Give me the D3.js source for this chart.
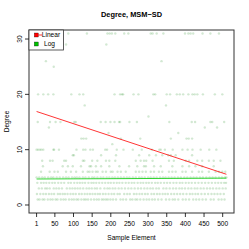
<!DOCTYPE html>
<html>
<head>
<meta charset="utf-8">
<script src="https://cdn.jsdelivr.net/npm/d3@7"></script>
<style>
  body { margin: 0; background: #fff; }
  text { font-family: "Liberation Sans", Arial, sans-serif; }
</style>
</head>
<body>
<svg id="chart" width="249" height="249"></svg>
<script>
// Sample element indices observed at each degree value
const deg1 = [4, 9, 17, 22, 31, 38, 44, 52, 57, 66, 73, 79, 88, 95, 101, 108, 113, 121, 128, 133, 139, 147, 155, 162, 168, 176, 181, 187, 192, 199, 206, 214, 226, 233, 241, 252, 258, 266, 271, 279, 288, 296, 303, 311, 318, 327, 336, 348, 357, 366, 372, 381, 393, 401, 410, 421, 429, 437, 446, 455, 468, 476, 489, 497, 505];
const deg2 = [2, 11, 19, 26, 34, 41, 48, 58, 64, 71, 77, 84, 92, 99, 106, 115, 122, 130, 137, 144, 151, 158, 165, 171, 179, 186, 194, 202, 209, 218, 224, 236, 244, 251, 262, 269, 277, 284, 292, 299, 309, 316, 324, 331, 339, 346, 353, 362, 370, 378, 386, 394, 403, 412, 419, 427, 434, 443, 452, 461, 470, 478, 486, 494, 503];
const deg3 = [7, 15, 24, 29, 36, 47, 54, 61, 69, 82, 90, 97, 104, 111, 118, 126, 135, 142, 149, 157, 163, 172, 183, 191, 197, 205, 212, 221, 229, 238, 247, 255, 264, 273, 281, 290, 298, 306, 313, 322, 329, 341, 349, 358, 367, 375, 384, 391, 399, 408, 416, 425, 432, 441, 449, 458, 466, 474, 483, 491, 500, 508];
const deg4 = [3, 13, 20, 27, 35, 43, 50, 59, 67, 75, 86, 93, 102, 110, 117, 124, 131, 140, 148, 154, 161, 169, 177, 185, 193, 200, 208, 216, 223, 231, 240, 248, 256, 263, 272, 280, 287, 295, 302, 310, 319, 326, 334, 343, 351, 359, 368, 376, 385, 392, 401, 409, 417, 426, 435, 444, 453, 462, 471, 480, 488, 496, 504, 509];
const deg5 = [1, 8, 16, 23, 32, 40, 46, 55, 63, 72, 80, 87, 96, 103, 109, 116, 125, 132, 141, 150, 156, 164, 173, 180, 189, 196, 204, 211, 219, 227, 235, 243, 250, 259, 267, 276, 283, 291, 300, 307, 315, 323, 332, 340, 347, 355, 363, 371, 380, 388, 397, 405, 414, 422, 430, 439, 447, 456, 465, 473, 481, 490, 498, 506, 510];
const deg6 = [13, 36, 49, 58, 80, 93, 107, 125, 138, 143, 151, 160, 165, 178, 187, 200, 205, 218, 227, 240, 267, 276, 285, 294, 307, 316, 329, 338, 356, 365, 374, 392, 401, 418, 436, 445, 463, 481, 490, 499, 507];
const deg7 = [18, 71, 85, 98, 120, 143, 147, 160, 174, 196, 223, 249, 271, 289, 294, 316, 334, 365, 392, 410, 427, 445, 476];
const deg8 = [16, 37, 44, 75, 80, 125, 129, 150, 164, 187, 196, 212, 267, 280, 289, 295, 312, 356, 369, 401, 410, 432, 445, 463, 476, 494];
const deg9 = [98, 101, 174, 214, 276, 303, 321, 338, 354, 361, 374, 418];
const deg10 = [1, 5, 10, 14, 19, 46, 48, 61, 108, 126, 132, 145, 152, 185, 190, 216, 234, 259, 283, 310, 330, 334, 345, 366, 392, 406, 419, 441, 464, 483];
const deg11 = [204];
const deg12 = [121, 127, 134, 227, 279, 361, 403, 409, 418];
const deg13 = [194, 381];
const deg14 = [34, 452, 485];
const deg15 = [4, 37, 52, 65, 102, 106, 173, 186, 199, 210, 222, 225, 250, 270, 357, 417, 426, 467, 472, 504];
const deg16 = [301];
const deg18 = [130, 348];
const deg20 = [5, 19, 32, 46, 94, 116, 126, 210, 225, 230, 233, 261, 274, 314, 319, 350, 359, 377, 385, 394, 408, 419, 425, 432, 447, 479, 499];
const deg25 = [47];
const deg26 = [26, 336];
const deg29 = [80, 188];
const deg31 = [86, 136, 191, 197, 203, 212, 236, 247, 307, 312, 323, 341, 399, 408, 414, 421, 446, 467, 490];

const degreeRows = [
  [1, deg1], [2, deg2], [3, deg3], [4, deg4], [5, deg5], [6, deg6], [7, deg7],
  [8, deg8], [9, deg9], [10, deg10], [11, deg11], [12, deg12], [13, deg13],
  [14, deg14], [15, deg15], [16, deg16], [18, deg18], [20, deg20], [25, deg25],
  [26, deg26], [29, deg29], [31, deg31]
];

// Fitted curves (sample element, degree)
const linearFit = [[1, 16.9], [510, 5.55]];
const logFit = [[1, 4.7], [510, 4.85]];

const xTicks = [1, 50, 100, 150, 200, 250, 300, 350, 400, 450, 500];
const yTicks = [0, 10, 20, 30];

const points = degreeRows.flatMap(([deg, els]) => els.map(e => ({ x: e, y: deg })));

const svg = d3.select("#chart");
const plotL = 29, plotR = 234, plotT = 30, plotB = 213;

// R-style 4% padding around the data range
const xScale = d3.scaleLinear().domain([-19.36, 530.36]).range([plotL, plotR]);
const yScale = d3.scaleLinear().domain([-1.446, 31.63]).range([plotB, plotT]);

// points
svg.append("g").selectAll("circle")
  .data(points)
  .enter().append("circle")
  .attr("cx", d => xScale(d.x))
  .attr("cy", d => yScale(d.y))
  .attr("r", 1.2)
  .attr("fill", "rgba(30,140,30,0.2)");

// fit lines
const line = d3.line().x(d => xScale(d[0])).y(d => yScale(d[1]));
svg.append("path").attr("d", line(linearFit)).attr("fill", "none")
  .attr("stroke", "#ff0000").attr("stroke-width", 0.8);
svg.append("path").attr("d", line(logFit)).attr("fill", "none")
  .attr("stroke", "#00cd00").attr("stroke-width", 0.8);

// plot box
svg.append("rect")
  .attr("x", plotL).attr("y", plotT)
  .attr("width", plotR - plotL).attr("height", plotB - plotT)
  .attr("fill", "none").attr("stroke", "#333").attr("stroke-width", 1);

// x axis
const xAxis = svg.append("g");
xAxis.selectAll("line").data(xTicks).enter().append("line")
  .attr("x1", d => xScale(d)).attr("x2", d => xScale(d))
  .attr("y1", plotB).attr("y2", plotB + 4)
  .attr("stroke", "#000").attr("stroke-width", 0.8);
xAxis.selectAll("text").data(xTicks).enter().append("text")
  .attr("x", d => xScale(d)).attr("y", 226)
  .attr("text-anchor", "middle").attr("font-size", 6.6)
  .text(d => d);

// y axis
const yAxis = svg.append("g");
yAxis.selectAll("line").data(yTicks).enter().append("line")
  .attr("x1", plotL - 4).attr("x2", plotL)
  .attr("y1", d => yScale(d)).attr("y2", d => yScale(d))
  .attr("stroke", "#000").attr("stroke-width", 0.8);
yAxis.selectAll("text").data(yTicks).enter().append("text")
  .attr("transform", d => `translate(21.5,${yScale(d)}) rotate(-90)`)
  .attr("text-anchor", "middle").attr("font-size", 6.6)
  .text(d => d);

// titles
svg.append("text").attr("x", 131.5).attr("y", 17)
  .attr("text-anchor", "middle").attr("font-size", 7.4).attr("font-weight", "bold")
  .text("Degree,  MSM\u2212SD");
svg.append("text").attr("x", 131.5).attr("y", 240)
  .attr("text-anchor", "middle").attr("font-size", 6.6)
  .text("Sample Element");
svg.append("text").attr("transform", "translate(8.5,121.5) rotate(-90)")
  .attr("text-anchor", "middle").attr("font-size", 6.6)
  .text("Degree");

// legend
const legendItems = [
  { label: "Linear", color: "#ff0000", line: true },
  { label: "Log", color: "#00c000", line: false }
];
const lg = svg.append("g");
lg.append("rect").attr("x", plotL).attr("y", plotT).attr("width", 34.5).attr("height", 20)
  .attr("fill", "#fff").attr("stroke", "#333").attr("stroke-width", 0.8);
legendItems.forEach((d, i) => {
  const cy = 35 + i * 9;
  lg.append("rect").attr("x", 34.3).attr("y", cy - 2).attr("width", 4).attr("height", 4)
    .attr("fill", d.color).attr("stroke", "#000").attr("stroke-width", 0.3);
  if (d.line) {
    lg.append("line").attr("x1", 38.3).attr("x2", 42).attr("y1", cy).attr("y2", cy)
      .attr("stroke", d.color).attr("stroke-width", 0.8);
  }
  lg.append("text").attr("x", d.line ? 41.8 : 44).attr("y", cy + 2.3)
    .attr("font-size", 6.6).text(d.label);
});
</script>
</body>
</html>
